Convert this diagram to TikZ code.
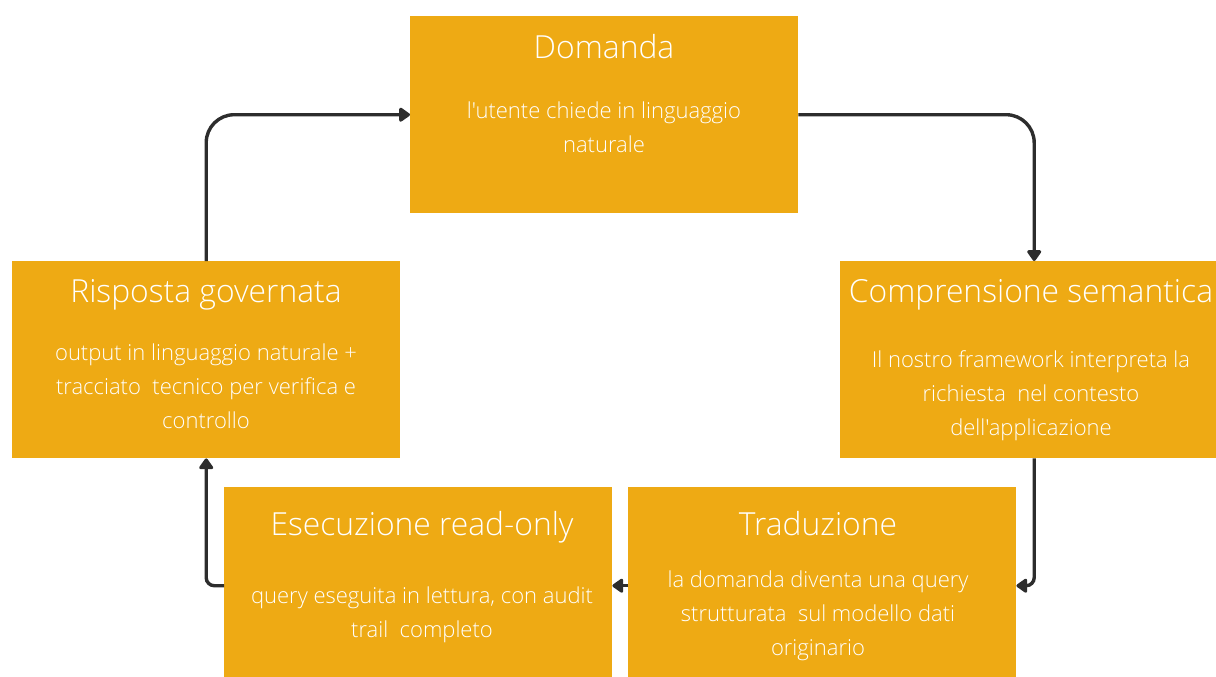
\documentclass[tikz,border=0pt]{standalone}
\usepackage{fontspec}
\newfontfamily\osfont{Open Sans}[UprightFont={* Light}]
\usetikzlibrary{arrows.meta}
\definecolor{boxfill}{RGB}{238,170,20}
\definecolor{linec}{RGB}{45,45,45}
\begin{document}
\begin{tikzpicture}[x=1pt,y=-1pt,
  stagebox/.style={rectangle, fill=boxfill, draw=none, minimum width=388pt, minimum height=197pt, inner sep=0pt, anchor=north west},
  titletext/.style={text=white, font=\osfont\fontsize{31.8}{36}\selectfont, anchor=base, inner sep=0pt},
  bodytext/.style={text=white, font=\osfont\fontsize{22}{34}\selectfont, align=center, anchor=base, inner sep=0pt},
  flow/.style={draw=linec, line width=3.4pt, -{Triangle[length=12pt,width=16pt,round]}}]
\useasboundingbox (0,0) rectangle (1216,677);
% boxes
\node[stagebox] (dom) at (410,16) {};
\node[stagebox] (com) at (840,261) {};
\node[stagebox] (ris) at (12,261) {};
\node[stagebox] (ese) at (224,487) {};
\node[stagebox] (tra) at (628,487) {};
% texts (body nodes are placed at the baseline of their last line)
\node[titletext] (domt) at (604,59) {Domanda};
\node[bodytext] (domb) at (604,152) {l'utente chiede in linguaggio\\naturale};
\node[titletext] (comt) at (1031,302) {Comprensione semantica};
\node[bodytext] (comb) at (1031,435) {Il nostro framework interpreta la\\richiesta\ \ nel contesto\\dell'applicazione};
\node[titletext] (rist) at (206,302) {Risposta governata};
\node[bodytext] (risb) at (206,428) {output in linguaggio naturale +\\tracciato\ \ tecnico per verifica e\\controllo};
\node[titletext] (eset) at (422,535) {Esecuzione read-only};
\node[bodytext] (eseb) at (422,637) {query eseguita in lettura, con audit\\trail\ \ completo};
\node[titletext] (trat) at (818,535) {Traduzione};
\node[bodytext] (trab) at (818,655) {la domanda diventa una query\\strutturata\ \ sul modello dati\\originario};
% connectors
\draw[flow, rounded corners=28pt] (dom.east) -- (com.north |- dom.east) -- (com.north);
\draw[flow, rounded corners=8pt] (com.south) -- (com.south |- tra.east) -- (tra.east);
\draw[flow] (tra.west) -- (ese.east);
\draw[flow, rounded corners=8pt] (ese.west) -- (ese.west -| ris.south) -- (ris.south);
\draw[flow, rounded corners=28pt] (ris.north) -- (ris.north |- dom.west) -- (dom.west);
\end{tikzpicture}
\end{document}
